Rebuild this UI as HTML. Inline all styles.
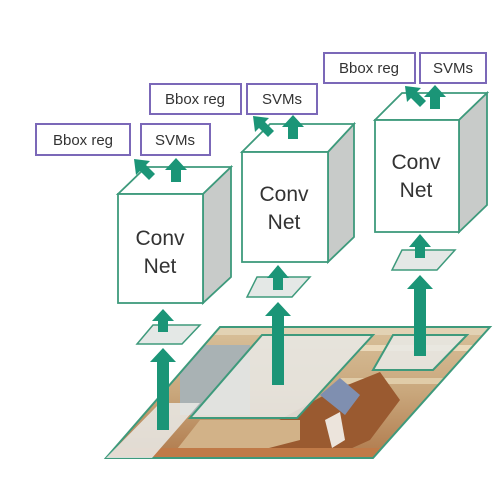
<!DOCTYPE html>
<html><head><style>
html,body{margin:0;padding:0;background:#fff;}
svg{display:block;}
text{font-family:"Liberation Sans",sans-serif;}
</style></head><body>
<svg width="503" height="485" viewBox="0 0 503 485" xmlns="http://www.w3.org/2000/svg">
<defs>
<linearGradient id="bg" x1="0" y1="0" x2="0" y2="1">
<stop offset="0" stop-color="#d8c09a"/><stop offset="0.5" stop-color="#c9a77c"/><stop offset="1" stop-color="#b07a4c"/>
</linearGradient>
<clipPath id="img"><polygon points="220,327 490,327 373,458 106,458"/></clipPath>
</defs>
<polygon points="220,327 490,327 373,458 106,458" fill="url(#bg)"/>
<g clip-path="url(#img)">
<rect x="100" y="327" width="400" height="8" fill="#e2d2b4"/>
<rect x="360" y="345" width="140" height="6" fill="#ead9bb"/>
<rect x="340" y="378" width="160" height="6" fill="#e0cca8"/>
<rect x="180" y="345" width="70" height="70" fill="#a9b2b4"/>
<polygon points="270,425 330,392 380,372 400,400 370,440 330,458 230,458 240,430" fill="#9a5a30"/>
<polygon points="320,395 340,378 360,395 345,415" fill="#7f8fb0"/>
<polygon points="325,420 340,412 345,440 332,448" fill="#ece4dc"/>
<polygon points="200,420 300,420 300,440 230,458 170,458" fill="#d2b288"/>
<rect x="100" y="448" width="300" height="10" fill="#c07a48"/>
</g>
<polygon points="220,327 490,327 373,458 106,458" fill="none" stroke="#3e9a7c" stroke-width="2"/>
<polygon points="262,335 373,335 297,418 190,418" fill="#e8e8e5" fill-opacity="0.88" stroke="#3e9a7c" stroke-width="2"/>
<polygon points="393,335 467,335 433,370 373,370" fill="#e8e8e5" fill-opacity="0.88" stroke="#3e9a7c" stroke-width="2"/>
<polygon points="160,403 200,403 152,458 106,458" fill="#e8e8e5" fill-opacity="0.88"/>
<polygon points="153,325 200,325 182,344 137,344" fill="#e4e8e6" stroke="#3e9a7c" stroke-width="1.5"/>
<polygon points="257,277 310,277 292,297 247,297" fill="#e4e8e6" stroke="#3e9a7c" stroke-width="1.5"/>
<polygon points="402,250 455,250 437,270 392,270" fill="#e4e8e6" stroke="#3e9a7c" stroke-width="1.5"/>
<g fill="#1b9577">
<polygon points="157,430 169,430 169,362 176,362 163,348 150,362 157,362"/>
<polygon points="158,332 168,332 168,321 174,321 163,309 152,321 158,321"/>
<polygon points="272,385 284,385 284,316 291,316 278,302 265,316 272,316"/>
<polygon points="273,290 283,290 283,278 289,278 278,265 267,278 273,278"/>
<polygon points="414,356 426,356 426,289 433,289 420,275 407,289 414,289"/>
<polygon points="415,258 425,258 425,247 431,247 420,234 409,247 415,247"/>
</g>
<g stroke="#3e9a7c" stroke-width="1.8">
<polygon points="118,194 146,167 231,167 203,194" fill="#fff"/>
<polygon points="203,194 231,167 231,277 203,303" fill="#c8cbc9"/>
<rect x="118" y="194" width="85" height="109" fill="#fff"/>
<polygon points="242,152 270,124 354,124 328,152" fill="#fff"/>
<polygon points="328,152 354,124 354,237 328,262" fill="#c8cbc9"/>
<rect x="242" y="152" width="86" height="110" fill="#fff"/>
<polygon points="375,120 402,93 487,93 459,120" fill="#fff"/>
<polygon points="459,120 487,93 487,205 459,232" fill="#c8cbc9"/>
<rect x="375" y="120" width="84" height="112" fill="#fff"/>
</g>
<g font-size="21" fill="#333" text-anchor="middle">
<text x="160" y="245">Conv</text><text x="160" y="273">Net</text>
<text x="284" y="201">Conv</text><text x="284" y="229">Net</text>
<text x="416" y="169">Conv</text><text x="416" y="197">Net</text>
</g>
<g fill="#1b9577">
<polygon points="171,182 181,182 181,170 187,170 176,158 165,170 171,170"/>
<polygon points="147,182 155,174 146,165 150,161 134,159 136,175 140,171 149,180"/>
<polygon points="288,139 298,139 298,127 304,127 293,115 282,127 288,127"/>
<polygon points="266,139 274,131 265,122 269,118 253,116 255,132 259,128 268,137"/>
<polygon points="430,109 440,109 440,97 446,97 435,85 424,97 430,97"/>
<polygon points="418,109 426,101 417,92 421,88 405,86 407,102 411,98 420,107"/>
</g>
<g fill="#fff" stroke="#7b68b8" stroke-width="2">
<rect x="36" y="124" width="94" height="31"/><rect x="141" y="124" width="69" height="31"/>
<rect x="150" y="84" width="91" height="30"/><rect x="247" y="84" width="70" height="30"/>
<rect x="324" y="53" width="91" height="30"/><rect x="420" y="53" width="66" height="30"/>
</g>
<g font-size="15" fill="#333" text-anchor="middle">
<text x="83" y="145">Bbox reg</text><text x="175" y="145">SVMs</text>
<text x="195" y="104">Bbox reg</text><text x="282" y="104">SVMs</text>
<text x="369" y="73">Bbox reg</text><text x="453" y="73">SVMs</text>
</g>
</svg>
</body></html>
